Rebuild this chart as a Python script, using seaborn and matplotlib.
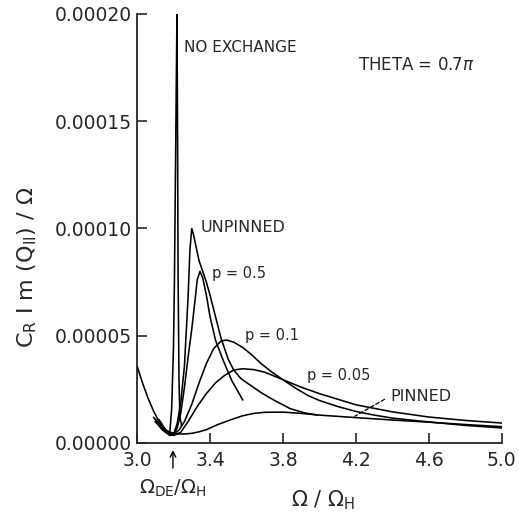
import matplotlib
matplotlib.use("Agg")
import matplotlib.pyplot as plt
import numpy as np
import seaborn as sns

# values (y in units of 1e-5)
no_exchange_x = [3.00, 3.03, 3.06, 3.09, 3.12, 3.15, 3.17, 3.18, 3.19, 3.20, 3.205, 3.21, 3.215, 3.219,
                 3.222, 3.225, 3.23, 3.235, 3.245]
no_exchange_y = [3.6, 2.8, 2.1, 1.5, 1.0, 0.65, 0.5, 0.5, 1.6, 4.5, 7.5, 12.0, 16.5, 20.0,
                 15.0, 8.0, 3.0, 1.2, 0.8]

unpinned_x = [3.12, 3.15, 3.18, 3.20, 3.22, 3.24, 3.26, 3.28, 3.29, 3.30, 3.31, 3.32, 3.34, 3.36,
              3.38, 3.40, 3.43, 3.46, 3.50, 3.53, 3.57, 3.62, 3.68, 3.75, 3.84, 3.92, 3.99]
unpinned_y = [1.1, 0.7, 0.4, 0.4, 0.9, 1.9, 3.6, 6.8, 9.0, 10.0, 9.7, 9.3, 8.5, 8.0,
              7.5, 6.9, 5.9, 4.9, 3.9, 3.4, 3.0, 2.7, 2.35, 2.0, 1.6, 1.4, 1.3]

p05_x = [3.10, 3.14, 3.18, 3.20, 3.22, 3.24, 3.26, 3.28, 3.30, 3.32, 3.33, 3.345, 3.36, 3.38,
         3.40, 3.43, 3.47, 3.52, 3.58]
p05_y = [1.0, 0.6, 0.35, 0.4, 0.7, 1.4, 2.6, 4.0, 5.3, 6.8, 7.6, 8.0, 7.7, 6.9,
         5.9, 4.8, 3.9, 2.9, 2.0]

p01_x = [3.10, 3.13, 3.16, 3.20, 3.23, 3.26, 3.30, 3.34, 3.38, 3.42, 3.46, 3.49, 3.53, 3.58,
         3.63, 3.68, 3.74, 3.80, 3.87, 3.94, 4.00, 4.10, 4.20, 4.30, 4.40, 4.60, 4.80, 5.00]
p01_y = [1.1, 0.8, 0.55, 0.4, 0.6, 1.0, 1.8, 2.8, 3.7, 4.4, 4.75, 4.8, 4.7, 4.45,
         4.1, 3.7, 3.3, 2.95, 2.55, 2.2, 1.98, 1.7, 1.47, 1.3, 1.16, 0.98, 0.82, 0.70]

p005_x = [3.09, 3.12, 3.15, 3.20, 3.24, 3.28, 3.33, 3.38, 3.43, 3.48, 3.53, 3.58, 3.64, 3.70,
          3.80, 3.90, 4.00, 4.20, 4.40, 4.60, 4.80, 5.00]
p005_y = [1.2, 0.9, 0.6, 0.35, 0.5, 1.0, 1.7, 2.3, 2.8, 3.15, 3.4, 3.46, 3.42, 3.3,
          2.95, 2.6, 2.3, 1.78, 1.45, 1.21, 1.05, 0.93]

pinned_x = [3.10, 3.14, 3.18, 3.22, 3.26, 3.30, 3.34, 3.38, 3.44, 3.51, 3.58, 3.64, 3.70, 3.80,
            3.90, 4.00, 4.17, 4.40, 4.60, 4.80, 5.00]
pinned_y = [1.0, 0.7, 0.5, 0.42, 0.42, 0.45, 0.52, 0.62, 0.85, 1.07, 1.27, 1.38, 1.43, 1.44,
            1.38, 1.3, 1.2, 1.07, 0.97, 0.86, 0.76]

curves = [
    (no_exchange_x, no_exchange_y),
    (unpinned_x, unpinned_y),
    (p05_x, p05_y),
    (p01_x, p01_y),
    (p005_x, p005_y),
    (pinned_x, pinned_y),
]

x_ticks = [3.0, 3.4, 3.8, 4.2, 4.6, 5.0]
y_ticks = [0.0, 0.00005, 0.00010, 0.00015, 0.00020]
y_tick_labels = ["0.00000", "0.00005", "0.00010", "0.00015", "0.00020"]

sns.set_style("ticks")
plt.rcParams["font.family"] = ["DejaVu Sans"]
plt.rcParams["mathtext.fontset"] = "dejavusans"

fig = plt.figure(figsize=(5.19, 5.16), dpi=100)
ax = fig.add_axes([0.264, 0.1415, 0.703, 0.8315])

for xs, ys in curves:
    sns.lineplot(x=xs, y=np.array(ys) * 1e-5, ax=ax, color="black", linewidth=1.15,
                 sort=False, estimator=None)

ax.set_xlim(3.0, 5.0)
ax.set_ylim(0.0, 0.0002)
ax.set_xticks(x_ticks)
ax.set_xticklabels([f"{t:.1f}" for t in x_ticks])
ax.set_yticks(y_ticks)
ax.set_yticklabels(y_tick_labels)
ax.tick_params(axis="both", direction="in", length=7, width=1.2, labelsize=13.5, pad=6)
ax.tick_params(axis="y", pad=4)
sns.despine(ax=ax)
for side in ("left", "bottom"):
    ax.spines[side].set_linewidth(1.3)

ax.set_ylabel(r"C$_\mathsf{R}$ I m (Q$_{\mathsf{II}}$) / $\Omega$", fontsize=16)
ax.yaxis.set_label_coords(-0.27, 0.41)
ax.set_xlabel(r"$\Omega$ / $\Omega_\mathsf{H}$", fontsize=15)
ax.xaxis.set_label_coords(0.51, -0.105)

# curve labels
ax.text(3.26, 18.45e-5, "NO EXCHANGE", fontsize=11, va="center")
ax.text(4.21, 17.6e-5, r"THETA = 0.7$\pi$", fontsize=12, va="center")
ax.text(3.35, 10.05e-5, "UNPINNED", fontsize=11.5, va="center")
ax.text(3.41, 7.9e-5, "p = 0.5", fontsize=10.5, va="center")
ax.text(3.59, 5.0e-5, "p = 0.1", fontsize=10.5, va="center")
ax.text(3.93, 3.15e-5, "p = 0.05", fontsize=10.5, va="center")
ax.text(4.39, 2.15e-5, "PINNED", fontsize=11.5, va="center")
ax.annotate("", xy=(4.18, 1.18e-5), xytext=(4.37, 2.1e-5),
            arrowprops=dict(arrowstyle="-", linestyle=(0, (3, 2)), color="black", lw=0.9))

# marker for the Omega_DE position below the axis
ax.annotate("", xy=(3.197, -0.01), xycoords=("data", "axes fraction"),
            xytext=(3.197, -0.065), textcoords=("data", "axes fraction"),
            arrowprops=dict(arrowstyle="->", color="black", lw=1.0))
ax.text(3.197, -0.105, r"$\Omega_\mathsf{DE}$/$\Omega_\mathsf{H}$", transform=ax.get_xaxis_transform(),
        ha="center", va="center", fontsize=14)

fig.savefig("out.png", dpi=100)
